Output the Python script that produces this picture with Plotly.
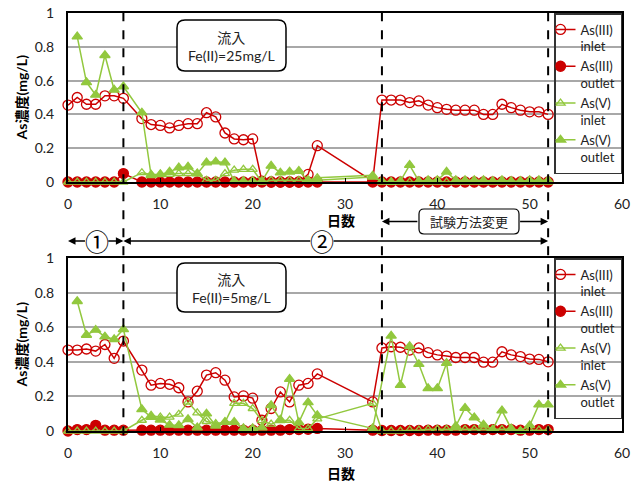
import plotly.graph_objects as go

# ---------------- data ----------------
days = [0, 1, 2, 3, 4, 5, 6,
        8, 9, 10, 11, 12, 13, 14, 15, 16, 17, 18, 19, 20, 21, 22, 23, 24, 25, 26, 27,
        33, 34, 35, 36, 37, 38, 39, 40, 41, 42, 43, 44, 45, 46, 47, 48, 49, 50, 51, 52]

# Upper panel (Fe(II)=25mg/L)
top_as3_in = [0.455, 0.50, 0.46, 0.46, 0.51, 0.51, 0.495,
              0.375, 0.34, 0.335, 0.32, 0.335, 0.345, 0.345, 0.41, 0.385, 0.29, 0.255, 0.25, 0.255,
              0.005, 0.0, 0.0, 0.0, 0.0, 0.045, 0.215,
              0.005, 0.485, 0.485, 0.485, 0.47, 0.48, 0.455, 0.44, 0.43, 0.425, 0.425, 0.425,
              0.40, 0.40, 0.46, 0.44, 0.425, 0.415, 0.415, 0.40]
top_as3_out = [0.0, 0.0, 0.0, 0.0, 0.0, 0.0, 0.05,
               0.0, 0.0, 0.0, 0.0, 0.0, 0.0, 0.0, 0.0, 0.0, 0.0, 0.0, 0.0, 0.0,
               0.0, 0.0, 0.0, 0.0, 0.0, 0.0, 0.0,
               0.0, 0.0, 0.0, 0.0, 0.0, 0.0, 0.0, 0.0, 0.0, 0.0, 0.0, 0.0,
               0.0, 0.0, 0.0, 0.0, 0.0, 0.0, 0.0, 0.0]
top_as5_in = [0.0, 0.0, 0.0, 0.0, 0.0, 0.0, 0.0,
              0.055, 0.045, 0.045, 0.045, 0.05, 0.05, 0.05, 0.01, 0.01, 0.05, 0.07, 0.075, 0.075,
              0.0, 0.01, 0.01, 0.01, 0.01, 0.01, 0.025,
              0.04, 0.0, 0.0, 0.0, 0.0, 0.0, 0.0, 0.0, 0.0, 0.0, 0.0, 0.0,
              0.0, 0.0, 0.0, 0.0, 0.0, 0.0, 0.0, 0.0]
top_as5_out = [None, 0.86, 0.59, 0.515, 0.75, 0.545, 0.565,
               0.41, 0.04, 0.045, 0.06, 0.085, 0.09, 0.05, 0.115, 0.12, 0.115, 0.005, 0.005, 0.005,
               0.005, 0.095, 0.055, 0.06, 0.065, 0.01, 0.01,
               0.03, 0.005, 0.0, 0.005, 0.1, 0.005, 0.01, 0.01, 0.06, 0.01, 0.01, 0.01,
               0.01, 0.005, 0.01, 0.005, 0.005, 0.01, 0.01, 0.01]

# Lower panel (Fe(II)=5mg/L)
bot_as3_in = [0.468, 0.468, 0.474, 0.462, 0.50, 0.42, 0.52,
              0.352, 0.265, 0.275, 0.27, 0.25, 0.168, 0.23, 0.323, 0.337, 0.294, 0.197, 0.203, 0.19,
              0.062, 0.13, 0.226, 0.168, 0.265, 0.275, 0.33,
              0.168, 0.48, 0.487, 0.484, 0.468, 0.48, 0.453, 0.44, 0.433, 0.425, 0.425, 0.425,
              0.398, 0.398, 0.458, 0.44, 0.43, 0.416, 0.414, 0.40]
bot_as3_out = [0.0, 0.008, 0.008, 0.033, 0.005, 0.005, 0.005,
               0.005, 0.005, 0.005, 0.005, 0.005, 0.005, 0.005, 0.005, 0.005, 0.005, 0.005, 0.005, 0.005,
               0.005, 0.005, 0.005, 0.008, 0.008, 0.01, 0.015,
               0.005, 0.003, 0.003, 0.003, 0.003, 0.003, 0.005, 0.005, 0.005, 0.005, 0.008, 0.008,
               0.008, 0.008, 0.008, 0.008, 0.005, 0.005, 0.008, 0.008]
bot_as5_in = [0.0, 0.0, 0.0, 0.0, 0.0, 0.0, 0.0,
              0.062, 0.09, 0.08, 0.08, 0.097, 0.167, 0.105, 0.055, 0.043, 0.05, 0.16, 0.16, 0.13,
              0.06, 0.04, 0.06, 0.062, 0.014, 0.014, 0.07,
              0.16, 0.0, 0.0, 0.0, 0.005, 0.005, 0.01, 0.01, 0.01, 0.01, 0.01, 0.01,
              0.01, 0.01, 0.01, 0.01, 0.0, 0.005, 0.005, 0.005]
bot_as5_out = [None, 0.75, 0.555, 0.584, 0.545, 0.53, 0.588,
               0.125, 0.08, 0.065, 0.035, 0.033, 0.068, 0.02, 0.1, 0.03, 0.052, 0.052, 0.015, 0.015,
               0.02, 0.148, 0.065, 0.30, 0.05, 0.165, 0.09,
               0.015, None, 0.55, 0.265, 0.49, 0.386, 0.246, 0.246, 0.392, 0.028, 0.133, 0.078,
               0.036, 0.007, 0.118, 0.014, 0.0, 0.032, 0.152, 0.152]

series_names = ["As(III)<br>inlet", "As(III)<br>outlet", "As(V)<br>inlet", "As(V)<br>outlet"]
panel_labels = ["流入<br>Fe(II)=25mg/L", "流入<br>Fe(II)=5mg/L"]
y_title = "As濃度(mg/L)"
x_title = "日数"
phase_days = [0, 6, 34, 52]
phase_labels = ["①", "②", "試験方法変更"]

# ---------------- styling ----------------
RED = "#CC0000"
GREEN = "#92C83E"
FONT = "Lato, 'Noto Sans CJK JP', sans-serif"

W, H = 640, 483
ML, MR, MT, MB = 68, 18, 13, 52
PW, PH = W - ML - MR, H - MT - MB


def px_x(x):
    return (x - ML) / PW


def px_y(y):
    return (H - MB - y) / PH


top_dom = [px_y(182), 1.0]
bot_dom = [0.0, px_y(258)]

fig = go.Figure()

styles = [
    dict(color=RED, symbol="circle-open", size=10, lw=1.5),
    dict(color=RED, symbol="circle", size=10, lw=1.5),
    dict(color=GREEN, symbol="triangle-up-open", size=8, lw=1.5),
    dict(color=GREEN, symbol="triangle-up", size=9, lw=1.5),
]

panels = [
    ([top_as3_in, top_as3_out, top_as5_in, top_as5_out], "x", "y", "legend"),
    ([bot_as3_in, bot_as3_out, bot_as5_in, bot_as5_out], "x2", "y2", "legend2"),
]
for series, xa, ya, lg in panels:
    for name, vals, st in zip(series_names, series, styles):
        fig.add_trace(go.Scatter(
            x=days, y=vals, name=name, mode="lines+markers",
            xaxis=xa, yaxis=ya, legend=lg, connectgaps=True, cliponaxis=False,
            line=dict(color=st["color"], width=st["lw"]),
            marker=dict(symbol=st["symbol"], size=st["size"], color=st["color"],
                        line=dict(color=st["color"], width=1.3)),
        ))

xax = dict(range=[0, 60], dtick=10, showgrid=False, zeroline=False, automargin=False,
           showline=True, linecolor="black", linewidth=2, mirror=True,
           ticks="inside", ticklen=4, tickcolor="black", tickwidth=1,
           ticklabelstandoff=8,
           tickfont=dict(family=FONT, size=14, color="#222"))
yax = dict(range=[0, 1], dtick=0.2, showgrid=True, gridcolor="#A8A8A8", gridwidth=1.5,
           zeroline=False, showline=True, linecolor="black", linewidth=2, mirror=True,
           automargin=False, ticks="", ticklabelstandoff=9,
           tickfont=dict(family=FONT, size=14, color="#222"))

legend_common = dict(xanchor="right", yanchor="top", bgcolor="rgba(255,255,255,0)",
                     bordercolor="#333", borderwidth=1.5, valign="top", indentation=-15,
                     font=dict(family=FONT, size=13, color="#222"), tracegroupgap=0)

fig.update_layout(
    width=W, height=H, margin=dict(l=ML, r=MR, t=MT, b=MB, autoexpand=False),
    paper_bgcolor="white", plot_bgcolor="white", font=dict(family=FONT),
    xaxis=dict(xax, domain=[0, 1], anchor="y"),
    yaxis=dict(yax, domain=top_dom, anchor="x"),
    xaxis2=dict(xax, domain=[0, 1], anchor="y2"),
    yaxis2=dict(yax, domain=bot_dom, anchor="x2"),
    legend=dict(legend_common, x=1.0, y=1.0),
    legend2=dict(legend_common, x=1.0, y=bot_dom[1]),
    showlegend=True,
)


def rounded(x0, y0, x1, y1, r):
    P = lambda x, y: f"{px_x(x):.5f},{px_y(y):.5f}"
    return (f"M{P(x0 + r, y0)} L{P(x1 - r, y0)} Q{P(x1, y0)} {P(x1, y0 + r)} "
            f"L{P(x1, y1 - r)} Q{P(x1, y1)} {P(x1 - r, y1)} L{P(x0 + r, y1)} "
            f"Q{P(x0, y1)} {P(x0, y1 - r)} L{P(x0, y0 + r)} Q{P(x0, y0)} {P(x0 + r, y0)} Z")


shapes = []
for (y0, y1) in [(20, 71), (263, 312)]:
    shapes.append(dict(type="path", xref="paper", yref="paper", path=rounded(177, y0, 286, y1, 8),
                       line=dict(color="black", width=1.5), fillcolor="white", layer="above"))
shapes.append(dict(type="path", xref="paper", yref="paper", path=rounded(419, 209, 519, 234, 5),
                   line=dict(color="black", width=1.2), fillcolor="white", layer="above"))
for d in phase_days[1:]:
    shapes.append(dict(type="line", xref="x", yref="paper", x0=d, x1=d, y0=-0.01, y1=1.0,
                       line=dict(color="black", width=2, dash="dash"), layer="above"))
fig.update_layout(shapes=shapes)

ann = []
for txt, yc in zip(panel_labels, [46, 288]):
    ann.append(dict(text=txt, xref="paper", yref="paper", x=px_x(231.5), y=px_y(yc),
                    xanchor="center", yanchor="middle",
                    showarrow=False, font=dict(family=FONT, size=14, color="#222")))

# axis titles
for yc in [97.5, 344.5]:
    ann.append(dict(text=f"<b>{y_title}</b>", xref="paper", yref="paper", x=px_x(21), y=px_y(yc),
                    xanchor="center", yanchor="middle", textangle=-90, showarrow=False,
                    font=dict(family=FONT, size=14, color="black")))
for yc in [220, 473]:
    ann.append(dict(text=f"<b>{x_title}</b>", xref="paper", yref="paper", x=px_x(341), y=px_y(yc),
                    xanchor="center", yanchor="middle", showarrow=False,
                    font=dict(family=FONT, size=14, color="black")))

y_arrow = px_y(241)
y_arrow2 = px_y(221.5)


def arrow(head, tail, yy):
    return dict(text="", xref="x", yref="paper", x=head, y=yy, axref="x", ax=tail,
                ayref="pixel", ay=0, showarrow=True, arrowhead=2, arrowsize=1,
                arrowwidth=1.5, arrowcolor="black", standoff=0, startstandoff=0)


c1 = 3.1
c2 = 27.5
rad = 1.1  # circle radius in days
ann += [arrow(phase_days[0], c1 - rad, y_arrow), arrow(phase_days[1], c1 + rad, y_arrow),
        arrow(phase_days[1], c2 - rad, y_arrow), arrow(phase_days[3], c2 + rad, y_arrow),
        arrow(phase_days[2], 38.0, y_arrow2), arrow(phase_days[3], 48.8, y_arrow2)]
for txt, cx in zip(phase_labels[:2], [c1, c2]):
    ann.append(dict(text=txt, xref="x", yref="paper", x=cx, y=y_arrow, showarrow=False,
                    xanchor="center", yanchor="middle", borderpad=0,
                    font=dict(family="'Noto Sans CJK JP'", size=24, color="black")))
ann.append(dict(text=phase_labels[2], xref="paper", yref="paper", x=px_x(469), y=px_y(221.5),
                xanchor="center", yanchor="middle",
                showarrow=False, font=dict(family=FONT, size=13, color="#222")))
fig.update_layout(annotations=ann)

fig.write_html("out.html", config={"displayModeBar": False},
               post_script="document.body.style.margin='0';")
